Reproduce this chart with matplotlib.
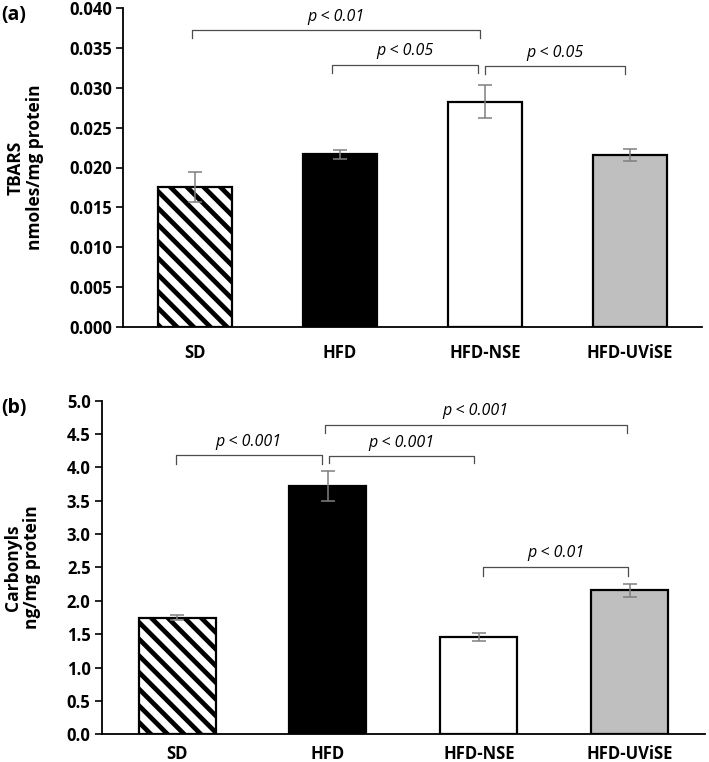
import matplotlib
matplotlib.use("Agg")
import matplotlib.pyplot as plt

plt.rcParams["font.family"] = ["Open Sans", "DejaVu Sans"]
plt.rcParams["hatch.linewidth"] = 3.4

# ---------------------------------------------------------
# data
# ---------------------------------------------------------
groups = ["SD", "HFD", "HFD-NSE", "HFD-UViSE"]

tbars = [0.01755, 0.02165, 0.02825, 0.02157]
tbars_err = [0.0019, 0.0006, 0.0021, 0.0007]

carbonyls = [1.75, 3.72, 1.46, 2.16]
carbonyls_err = [0.04, 0.22, 0.055, 0.10]

# brackets: (left group, right group, label, top, drop)
brackets_a = [
    (0, 2, "p < 0.01", 0.0372, 0.0362),
    (1, 2, "p < 0.05", 0.0329, 0.0318),
    (2, 3, "p < 0.05", 0.0327, 0.0317),
]
brackets_b = [
    (0, 1, "p < 0.001", 4.18, 4.05),
    (1, 2, "p < 0.001", 4.17, 4.06),
    (1, 3, "p < 0.001", 4.635, 4.51),
    (2, 3, "p < 0.01", 2.51, 2.37),
]
# small horizontal nudges so bracket ends do not overlap
nudges_a = [(-0.025, -0.035), (-0.055, -0.05), (0.0, -0.035)]
nudges_b = [(-0.01, -0.04), (0.01, -0.03), (-0.02, -0.02), (0.03, -0.01)]

fills = ["white", "black", "white", "#bfbfbf"]
hatches = ["\\\\", None, None, None]

W, H = 709, 762
fig = plt.figure(figsize=(W / 100, H / 100), dpi=100)

ax_a = fig.add_axes([123 / W, 1 - 327 / H, (702 - 123) / W, (327 - 8) / H])
ax_b = fig.add_axes([101.7 / W, 1 - 734.3 / H, (705 - 101.7) / W, (734.3 - 400.7) / H])


def draw_panel(ax, vals, errs, brackets, nudges, ylim, yticks, fmt, ylabel,
               lab_x, xpad):
    x = range(len(groups))
    for i in x:
        ax.bar(i, vals[i], width=0.51, color=fills[i], edgecolor="black",
               linewidth=1.6, hatch=hatches[i], zorder=2)
    ax.errorbar(list(x), vals, yerr=errs, fmt="none", ecolor="#7f7f7f",
                elinewidth=1.1, capsize=5, capthick=1.1, zorder=3)

    for (i, j, lab, top, drop), (dl, dr) in zip(brackets, nudges):
        xl, xr = i + dl, j + dr
        ax.plot([xl, xl, xr, xr], [drop, top, top, drop], color="#4d4d4d",
                lw=0.9, zorder=4, clip_on=False)
        ax.annotate(lab, ((xl + xr) / 2, top), xytext=(0, 4),
                    textcoords="offset points", ha="center", va="bottom",
                    fontsize=11.5, style="italic", color="black")

    ax.set_xlim(-0.5, 3.5)
    ax.set_ylim(*ylim)
    ax.set_yticks(yticks)
    ax.set_yticklabels([fmt.format(t) for t in yticks], fontsize=12,
                       fontweight="bold")
    ax.set_xticks(list(x))
    ax.set_xticklabels(groups, fontsize=12, fontweight="bold")
    ax.tick_params(axis="x", length=0, pad=xpad)
    ax.tick_params(axis="y", length=5, width=1.2, direction="out", pad=3)
    for s in ["top", "right"]:
        ax.spines[s].set_visible(False)
    for s in ["left", "bottom"]:
        ax.spines[s].set_linewidth(1.3)
    ax.set_ylabel(ylabel, fontsize=12.5, fontweight="bold",
                  multialignment="center", linespacing=1.05)
    ax.yaxis.set_label_coords(lab_x, 0.5)


draw_panel(ax_a, tbars, tbars_err, brackets_a, nudges_a, (0, 0.04),
           [i * 0.005 for i in range(9)], "{:.3f}",
           "TBARS\nnmoles/mg protein", -0.137, 12)
draw_panel(ax_b, carbonyls, carbonyls_err, brackets_b, nudges_b, (0, 5.0),
           [i * 0.5 for i in range(11)], "{:.1f}",
           "Carbonyls\nng/mg protein", -0.101, 8)

fig.text(1 / W, 1 - 15 / H, "(a)", fontsize=14, fontweight="bold", va="center")
fig.text(1 / W, 1 - 408 / H, "(b)", fontsize=14, fontweight="bold", va="center")

fig.savefig("out.png", dpi=100)
